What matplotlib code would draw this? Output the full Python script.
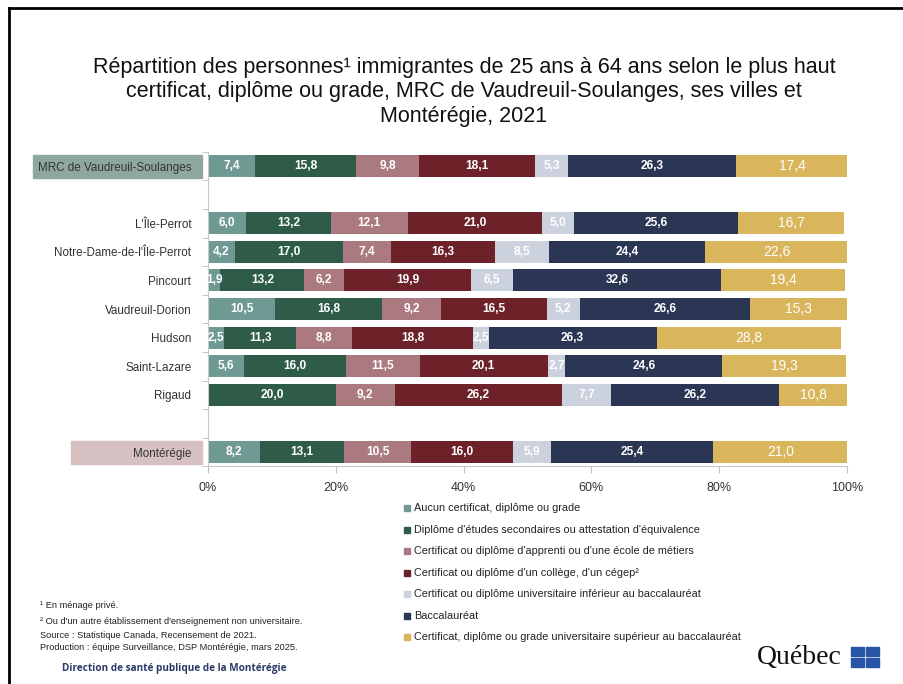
import numpy as np
import matplotlib.pyplot as plt
from matplotlib.patches import Rectangle
from matplotlib.lines import Line2D

# categories (blank entries are the gaps between groups)
regions = ["MRC de Vaudreuil-Soulanges", "", "L'Île-Perrot", "Notre-Dame-de-l'Île-Perrot",
           "Pincourt", "Vaudreuil-Dorion", "Hudson", "Saint-Lazare", "Rigaud", "", "Montérégie"]

series_names = ["Aucun certificat, diplôme ou grade",
                "Diplôme d'études secondaires ou attestation d'équivalence",
                "Certificat ou diplôme d'apprenti ou d'une école de métiers",
                "Certificat ou diplôme d'un collège, d'un cégep²",
                "Certificat ou diplôme universitaire inférieur au baccalauréat",
                "Baccalauréat",
                "Certificat, diplôme ou grade universitaire supérieur au baccalauréat"]

aucun      = [7.4, 0, 6.0, 4.2, 1.9, 10.5, 2.5, 5.6, 0.0, 0, 8.2]
secondaire = [15.8, 0, 13.2, 17.0, 13.2, 16.8, 11.3, 16.0, 20.0, 0, 13.1]
apprenti   = [9.8, 0, 12.1, 7.4, 6.2, 9.2, 8.8, 11.5, 9.2, 0, 10.5]
college    = [18.1, 0, 21.0, 16.3, 19.9, 16.5, 18.8, 20.1, 26.2, 0, 16.0]
univ_inf   = [5.3, 0, 5.0, 8.5, 6.5, 5.2, 2.5, 2.7, 7.7, 0, 5.9]
bac        = [26.3, 0, 25.6, 24.4, 32.6, 26.6, 26.3, 24.6, 26.2, 0, 25.4]
superieur  = [17.4, 0, 16.7, 22.6, 19.4, 15.3, 28.8, 19.3, 10.8, 0, 21.0]

series = [aucun, secondaire, apprenti, college, univ_inf, bac, superieur]
colors = ["#6f9a93", "#2e5c48", "#aa7a80", "#6d2128", "#ccd1de", "#2b3554", "#d9b55b"]

sans = ['Liberation Sans', 'DejaVu Sans']

fig = plt.figure(figsize=(9.04, 6.84), dpi=100)
W, H = 904, 684

def fx(px):
    return px / W

def fy(py):
    return 1 - py / H

ax = fig.add_axes([fx(208), fy(466.3), fx(847) - fx(208), fy(151.7) - fy(466.3)])

y = np.arange(len(regions))
left = np.zeros(len(regions))
for vals, col in zip(series, colors):
    vals = np.array(vals)
    ax.barh(y, vals, left=left, height=0.77, color=col, zorder=2)
    for yi, v, l in zip(y, vals, left):
        if v > 0:
            lab = f"{v:.1f}".replace(".", ",")
            if col == "#d9b55b":
                ax.text(l + v / 2, yi, lab, ha="center", va="center",
                        color="white", fontsize=10, family=sans, zorder=3)
            else:
                ax.text(l + v / 2, yi, lab, ha="center", va="center",
                        color="white", fontsize=8.6, fontweight="bold", family=sans, zorder=3)
    left += vals

ax.set_xlim(0, 100)
ax.set_ylim(len(regions) - 0.5, -0.5)
ax.set_xticks([0, 20, 40, 60, 80, 100])
ax.set_xticklabels(["0%", "20%", "40%", "60%", "80%", "100%"], family=sans, fontsize=9, color="#333333")
ax.set_yticks(y)
ax.set_yticklabels(regions, family=sans, fontsize=8.4, color="#333333")
ax.set_yticks(np.arange(len(regions) + 1) - 0.5, minor=True)
ax.tick_params(axis="y", which="major", length=0, pad=12)
ax.tick_params(axis="y", which="minor", length=4, color="#c0c0c0", direction="out")
ax.tick_params(axis="x", length=5, color="#c0c0c0", pad=6)
for s in ["top", "right"]:
    ax.spines[s].set_visible(False)
for s in ["left", "bottom"]:
    ax.spines[s].set_color("#c8c8c8")

# highlighted category labels
fig.patches.append(Rectangle((fx(33), fy(178)), fx(202) - fx(33), fy(155) - fy(178),
                             transform=fig.transFigure, color="#8fa89f", zorder=-1))
fig.patches.append(Rectangle((fx(71), fy(464)), fx(202) - fx(71), fy(441) - fy(464),
                             transform=fig.transFigure, color="#d6c0c2", zorder=-1))

# title
fig.text(fx(464), fy(92), "Répartition des personnes¹ immigrantes de 25 ans à 64 ans selon le plus haut\n"
         "certificat, diplôme ou grade, MRC de Vaudreuil-Soulanges, ses villes et\nMontérégie, 2021",
         ha="center", va="center", fontsize=15.5, family=sans,
         color="#111111", linespacing=1.2)

# legend
leg_y = [508, 530, 551, 573, 594, 616, 637]
for name, col, ly in zip(series_names, colors, leg_y):
    fig.patches.append(Rectangle((fx(404), fy(ly + 3)), fx(6), 6 / H,
                                 transform=fig.transFigure, color=col))
    fig.text(fx(414), fy(ly), name, ha="left", va="center", fontsize=7.8, family=sans, color="#222222")

# notes
notes = [("¹ En ménage privé.", 606), ("² Ou d'un autre établissement d'enseignement non universitaire.", 622),
         ("Source : Statistique Canada, Recensement de 2021.", 636),
         ("Production : équipe Surveillance, DSP Montérégie, mars 2025.", 648)]
for txt, ny in notes:
    fig.text(fx(40), fy(ny), txt, ha="left", va="center", fontsize=6.7, family=sans, color="#222222")
fig.text(fx(62), fy(669), "Direction de santé publique de la Montérégie", ha="left", va="center",
         fontsize=7.2, fontweight="bold", family=["Open Sans", "DejaVu Sans"], color="#2b3a66")

# Québec logo
fig.text(fx(757), fy(657), "Québec", ha="left", va="center", fontsize=20,
         family=["Liberation Serif", "DejaVu Serif"], color="#111111")
for qx, qy in [(851, 647), (866, 647), (851, 658), (866, 658)]:
    fig.patches.append(Rectangle((fx(qx), fy(qy + 9)), fx(13), 9 / H,
                                 transform=fig.transFigure, color="#2754a4"))

# slide frame
fig.lines.append(Line2D([fx(9), fx(9)], [fy(8), 0], transform=fig.transFigure, color="black", lw=2))
fig.lines.append(Line2D([fx(9), 1], [fy(8), fy(8)], transform=fig.transFigure, color="black", lw=2))

plt.savefig("out.png", dpi=100)
